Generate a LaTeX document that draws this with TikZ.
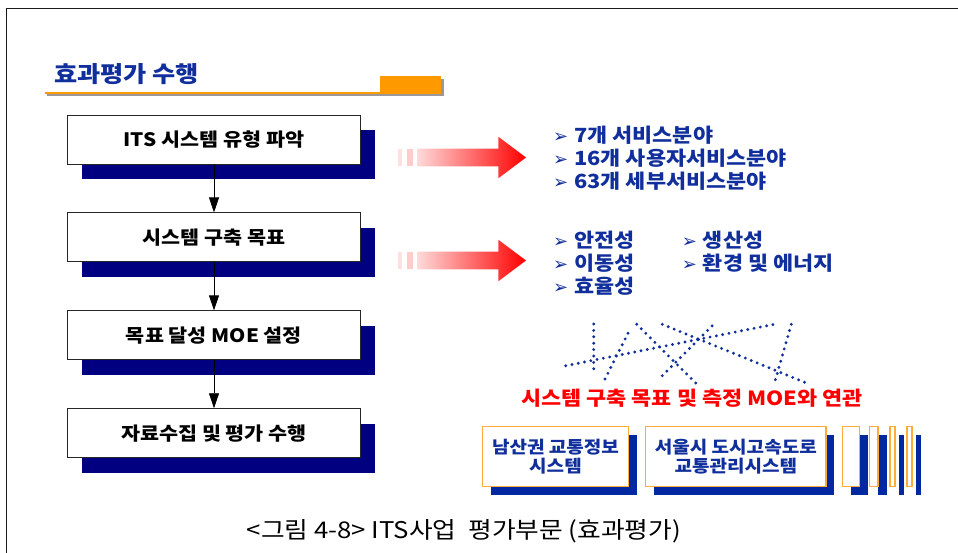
\documentclass[tikz,border=0pt]{standalone}
\usepackage{fontspec}
\setmainfont{Noto Sans CJK KR}
\newfontfamily\krwide{Noto Sans CJK KR}[FakeStretch = 1.12]
\newfontfamily\dejavu{DejaVu Sans}
\usetikzlibrary{positioning,shadows,arrows.meta}

\definecolor{itsblue}{RGB}{16,46,156}
\definecolor{shadenavy}{RGB}{0,0,128}
\definecolor{shadeblue}{RGB}{0,40,160}
\definecolor{lineorange}{RGB}{255,153,0}
\definecolor{boxorange}{RGB}{255,172,60}

\newcommand{\itsbullet}{{\dejavu\fontsize{18}{18}\selectfont ➢}\hspace{6pt}}
\newcommand{\redarrow}[1]{% #1 = y of the arrow axis
  \fill[red!12] (398.3,#1-8.8) rectangle (401.7,#1+8.8);
  \fill[red!20] (406.7,#1-8.8) rectangle (413.3,#1+8.8);
  \shade[left color=red!15, middle color=red!80, right color=red]
    (417.7,#1-8.8) -- (498.3,#1-8.8) -- (498.3,#1-20.8) -- (526,#1)
    -- (498.3,#1+20.8) -- (498.3,#1+8.8) -- (417.7,#1+8.8) -- cycle;}

\begin{document}
\begin{tikzpicture}[x = 1pt, y = -1pt, node distance = 48pt,
  stepbox/.style = {draw = black!85, line width = .9pt, fill = white,
    minimum width = 293pt, minimum height = 49pt,
    font = \krwide\bfseries\fontsize{18.5}{20}\selectfont,
    drop shadow = {shadow xshift = 14.5pt, shadow yshift = -15pt, fill = shadenavy, opacity = 1}},
  flow/.style = {-{Triangle[width = 10pt, length = 15pt]}, line width = .8pt},
  sysbox/.style = {draw = boxorange, line width = 1.5pt, fill = white,
    minimum height = 60pt, inner sep = 0pt, text = itsblue, align = center,
    font = \krwide\bfseries\fontsize{17}{19}\selectfont,
    drop shadow = {shadow xshift = 8.5pt, shadow yshift = -8.5pt, fill = shadeblue, opacity = 1}},
  list/.style = {anchor = west, inner sep = 0pt, align = left, text = itsblue,
    font = \krwide\bfseries\fontsize{19.5}{23.3}\selectfont},
  dots/.style = {itsblue, line width = 3.2pt, line cap = round, dash pattern = on 0pt off 6.4pt}]
\useasboundingbox (0,0) rectangle (958,553);

% frame and title bar
\draw[line width = 1.6pt, black!90] (6.5,553) -- (6.5,8.5) -- (958,8.5);
\node[anchor = west, inner sep = 0pt, text = itsblue, font = \krwide\bfseries\fontsize{22.5}{22.5}\selectfont] (title) at (54,74) {효과평가 수행};
\fill[black!40] (47,93.5) rectangle (443.5,96.5);
\fill[black!40] (383,79) rectangle (443.5,96.5);
\fill[lineorange] (45,92.5) rectangle (380,94.5);
\fill[lineorange] (380,76) rectangle (440.7,94.5);

% process steps
\node[stepbox] (s1) at (214,139.5) {ITS 시스템 유형 파악};
\node[stepbox, below = of s1] (s2) {시스템 구축 목표};
\node[stepbox, below = of s2] (s3) {목표 달성 MOE 설정};
\node[stepbox, below = of s3] (s4) {자료수집 및 평가 수행};
\draw[flow] (s1) -- (s2);
\draw[flow] (s2) -- (s3);
\draw[flow] (s3) -- (s4);

% red arrows and lists
\redarrow{157.5}
\redarrow{260.5}
\node[list] (types) at (553,158.3) {\itsbullet 7개 서비스분야\\\itsbullet 16개 사용자서비스분야\\\itsbullet 63개 세부서비스분야};
\node[list] (goals) at (553,263.3) {\itsbullet 안전성\\\itsbullet 이동성\\\itsbullet 효율성};
\node[list] (goalsb) at (681.7,251.7) {\itsbullet 생산성\\\itsbullet 환경 및 에너지};

% dotted links
\foreach \ax/\ay/\bx/\by in {593.7/324/593.7/369.3, 565.7/365.7/774.3/324.3, 605/379/628.3/332.7,
    636.7/324.3/696/383.3, 662.3/324.3/805.7/382.7, 662.3/375.7/712.7/325.3, 791.3/324.3/775.3/380}
  \draw[dots] (\ax,\ay) -- (\bx,\by);
\node[text = red, font = \krwide\bfseries\fontsize{19.5}{19.5}\selectfont] (link) at (692,398) {시스템 구축 목표 및 측정 MOE와 연관};

% systems
\node[sysbox, minimum width = 146.4pt] (namsan) at (555.5,456.7) {남산권 교통정보\\시스템};
\node[sysbox, minimum width = 180.3pt] (seoul) at (735.8,456.7) {서울시 도시고속도로\\교통관리시스템};
\foreach \x/\w [count = \i] in {850.8/17, 873.7/8.7, 892.5/5, 909.5/5}
  \node[sysbox, minimum width = \w pt] (strip\i) at (\x,456.7) {};

\node[font = \krwide\fontsize{23}{23}\selectfont] (caption) at (464,531) {<그림 4-8> ITS사업\hspace{6pt} 평가부문 (효과평가)};
\end{tikzpicture}
\end{document}
